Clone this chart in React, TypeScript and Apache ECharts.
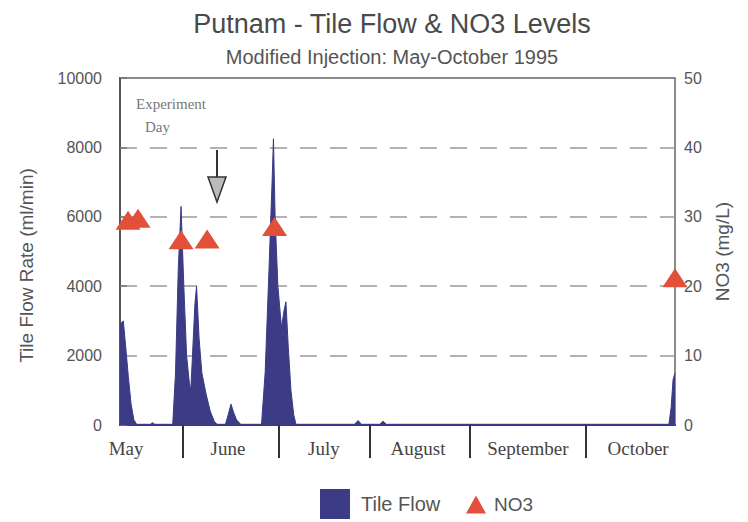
import React, { useEffect, useRef } from "react";
import * as echarts from "echarts";

// x positions are in "day index" units of the chart's (non-linear) time axis, 0..200
const flowDay = [0, 1.2, 2, 3, 4, 5, 6, 11, 11.6, 12.2, 13, 19, 20, 21, 22, 23, 24, 25, 25.5, 26, 27, 27.6, 28.5, 29.5, 31, 32.5, 34, 35, 38, 39, 40, 41, 42, 43.5, 51, 52.3, 53.7, 54.8, 55.3, 55.9, 56.9, 58.2, 59.1, 59.8, 60.6, 61.6, 62.6, 63.4, 84.5, 85.8, 87, 93.6, 94.8, 96, 197.8, 198.6, 199.3, 200];
const flowRate = [2900, 3000, 2300, 1400, 600, 150, 20, 20, 70, 30, 20, 20, 1500, 4500, 6300, 4000, 2000, 1200, 1000, 1800, 3500, 4000, 2500, 1500, 900, 400, 100, 20, 20, 300, 600, 350, 150, 20, 20, 1500, 4500, 7000, 8250, 6000, 4000, 2800, 3300, 3550, 2300, 1000, 300, 20, 20, 130, 20, 20, 110, 20, 20, 500, 1300, 1500];

const no3Day = [2.9, 6.5, 22, 31.4, 55.7, 200];
const no3Value = [29.5, 29.8, 26.7, 26.8, 28.6, 21.2];

const monthNames = ["May", "June", "July", "August", "September", "October"];
const monthLabelPos = [2.2, 38.9, 73.5, 107.4, 147, 186.7];
const monthBounds = [22.7, 57.3, 90.1, 126.1, 167.9];

const flowTicks = { min: 0, max: 10000, interval: 2000 };
const no3Ticks = { min: 0, max: 50, interval: 10 };

const SANS = "'Liberation Sans', Arial, sans-serif";
const SERIF = "'Liberation Serif', 'Times New Roman', serif";

export default function App() {
  const ref = useRef<HTMLDivElement>(null);

  useEffect(() => {
    document.body.style.margin = "0";
    document.body.style.overflow = "hidden";
    const chart = echarts.init(ref.current!, undefined, { renderer: "svg" });

    const flowData = flowDay.map((d, i) => [d, flowRate[i]]);
    const no3Data = no3Day.map((d, i) => [d, no3Value[i]]);

    const monthLabel = (v: number) => {
      for (let i = 0; i < monthLabelPos.length; i++) {
        if (Math.abs(monthLabelPos[i] - v) < 0.01) return monthNames[i];
      }
      return "";
    };

    chart.setOption({
      animation: false,
      backgroundColor: "#ffffff",
      title: {
        text: "Putnam - Tile Flow & NO3 Levels",
        subtext: "Modified Injection: May-October 1995",
        left: 387,
        textAlign: "center",
        top: 5,
        itemGap: 10,
        textStyle: { fontFamily: SANS, fontSize: 27, fontWeight: "normal", color: "#4a4a4a" },
        subtextStyle: { fontFamily: SANS, fontSize: 20, color: "#555" },
      },
      legend: [
        {
          data: ["Tile Flow"],
          left: 315,
          top: 484,
          itemWidth: 30,
          itemHeight: 30,
          itemGap: 10,
          icon: "rect",
          textStyle: { fontFamily: SANS, fontSize: 20, color: "#555", padding: [0, 0, 0, 6] },
        },
        {
          data: ["NO3"],
          left: 461,
          top: 490,
          itemWidth: 20,
          itemHeight: 18,
          icon: "triangle",
          textStyle: { fontFamily: SANS, fontSize: 19, color: "#555", padding: [0, 0, 0, 3] },
        },
      ],
      grid: {
        left: 120,
        right: 73,
        top: 78,
        bottom: 97,
        show: true,
        borderColor: "#666",
        borderWidth: 1.5,
        backgroundColor: "transparent",
      },
      xAxis: [
        {
          type: "value",
          min: 0,
          max: 200,
          position: "bottom",
          axisLine: { show: true, onZero: false, lineStyle: { color: "#3a3a80", width: 2 } },
          axisTick: { show: false },
          splitLine: { show: false },
          axisLabel: {
            customValues: monthLabelPos,
            formatter: (v: number) => monthLabel(v),
            fontFamily: SERIF,
            fontSize: 19,
            color: "#444",
            margin: 14,
            showMinLabel: true,
            showMaxLabel: true,
            hideOverlap: false,
          },
        },
        {
          type: "value",
          min: 0,
          max: 200,
          position: "bottom",
          offset: 7,
          axisLine: { show: false },
          axisTick: {
            show: true,
            customValues: monthBounds,
            length: 33,
            lineStyle: { color: "#333", width: 2 },
          },
          axisLabel: { show: false },
          splitLine: { show: false },
        },
      ],
      yAxis: [
        {
          type: "value",
          position: "left",
          ...flowTicks,
          name: "Tile Flow Rate (ml/min)",
          nameLocation: "middle",
          nameRotate: 90,
          nameGap: 84,
          nameTextStyle: { fontFamily: SANS, fontSize: 19, color: "#555", padding: [0, 0, 0, -28] },
          axisLine: { show: true, lineStyle: { color: "#555", width: 2 } },
          axisTick: { show: false },
          axisLabel: {
            fontFamily: SANS,
            fontSize: 16,
            color: "#555",
            margin: 18,
            formatter: (v: number) => String(v),
          },
          splitLine: {
            show: true,
            showMinLine: false,
            showMaxLine: false,
            lineStyle: { type: [17, 13], color: "#9a9a9a", width: 1.5 },
          },
        },
        {
          type: "value",
          position: "right",
          ...no3Ticks,
          name: "NO3 (mg/L)",
          nameLocation: "middle",
          nameRotate: 90,
          nameGap: 34,
          nameTextStyle: { fontFamily: SANS, fontSize: 19, color: "#555" },
          axisLine: { show: true, lineStyle: { color: "#555", width: 2 } },
          axisTick: { show: true, inside: false, length: 7, lineStyle: { color: "#777", width: 1.5 } },
          axisLabel: { fontFamily: SANS, fontSize: 16, color: "#555", margin: 9 },
          splitLine: { show: false },
        },
      ],
      series: [
        {
          name: "Tile Flow",
          type: "line",
          xAxisIndex: 0,
          yAxisIndex: 0,
          data: flowData,
          symbol: "none",
          lineStyle: { color: "#3b3b86", width: 1 },
          itemStyle: { color: "#3b3b86" },
          areaStyle: { color: "#3b3b86", opacity: 1 },
          z: 2,
        },
        {
          name: "NO3",
          type: "scatter",
          xAxisIndex: 0,
          yAxisIndex: 1,
          data: no3Data,
          symbol: "triangle",
          symbolSize: [25, 19],
          clip: false,
          itemStyle: { color: "#e2503a", opacity: 1 },
          z: 3,
        },
      ],
      graphic: [
        {
          type: "text",
          left: 136,
          top: 96,
          style: { text: "Experiment", fontFamily: SERIF, fontSize: 15, fill: "#777" },
        },
        {
          type: "text",
          left: 145,
          top: 119,
          style: { text: "Day", fontFamily: SERIF, fontSize: 15, fill: "#777" },
        },
        {
          type: "line",
          shape: { x1: 217, y1: 150, x2: 217, y2: 178 },
          style: { stroke: "#333", lineWidth: 2 },
        },
        {
          type: "polygon",
          shape: { points: [[208, 177], [226, 177], [217, 202]] },
          style: { fill: "#bbbbbb", stroke: "#333", lineWidth: 1.5 },
        },
      ],
    });

    return () => chart.dispose();
  }, []);

  return <div ref={ref} style={{ width: 748, height: 522 }} />;
}
